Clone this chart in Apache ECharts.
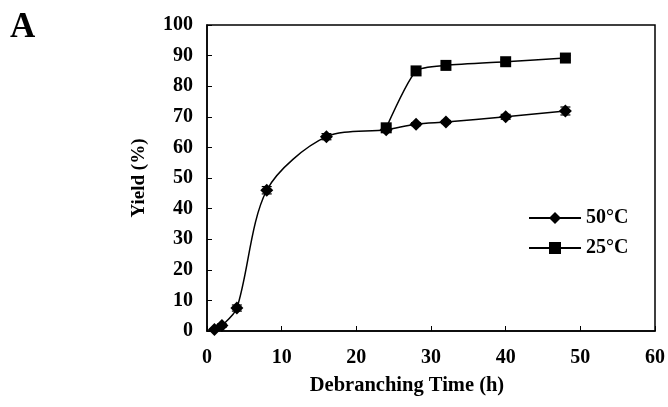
<!DOCTYPE html>
<html>
<head>
<meta charset="utf-8">
<script src="https://cdn.jsdelivr.net/npm/echarts@6/dist/echarts.min.js"></script>
<style>
  html, body { margin: 0; padding: 0; background: #fff; }
  #chart { width: 668px; height: 407px; }
</style>
</head>
<body>
<div id="chart"></div>
<script>
// debranching time (h) and yield (%)
const time50 = [1, 2, 4, 8, 16, 24, 28, 32, 40, 48];
const yield50 = [0.5, 1.8, 7.5, 46, 63.5, 65.8, 67.6, 68.3, 70, 71.9];
const err50 = [0.3, 0.5, 1.0, 1.2, 1.0, 0.8, 0.5, 0.5, 0.8, 1.3];

const time25 = [24, 28, 32, 40, 48];
const yield25 = [66.4, 85, 86.8, 88, 89.2];
const err25 = [0.8, 0.8, 0.5, 0.6, 0.8];

const xTicks = [0, 10, 20, 30, 40, 50, 60];
const yTicks = [0, 10, 20, 30, 40, 50, 60, 70, 80, 90, 100];

const FONT = 'Liberation Serif';

function pairs(xs, ys) {
    return xs.map((x, i) => [x, ys[i]]);
}

function errData(xs, ys, es) {
    return xs.map((x, i) => [x, ys[i] - es[i], ys[i] + es[i]]);
}

// little error bars with caps
function renderErr(params, api) {
    const x = api.value(0);
    const lo = api.coord([x, api.value(1)]);
    const hi = api.coord([x, api.value(2)]);
    const cap = 5;
    const style = { stroke: '#000', lineWidth: 1.2 };
    return {
        type: 'group',
        children: [
            { type: 'line', shape: { x1: lo[0], y1: lo[1], x2: hi[0], y2: hi[1] }, style: style },
            { type: 'line', shape: { x1: lo[0] - cap, y1: lo[1], x2: lo[0] + cap, y2: lo[1] }, style: style },
            { type: 'line', shape: { x1: hi[0] - cap, y1: hi[1], x2: hi[0] + cap, y2: hi[1] }, style: style }
        ]
    };
}

const chart = echarts.init(document.getElementById('chart'));
const option = {
    animation: false,
    textStyle: { fontFamily: FONT, fontWeight: 'bold', color: '#000' },
    title: {
        text: 'A',
        left: 10,
        top: 10,
        padding: 0,
        textStyle: { fontFamily: FONT, fontWeight: 'bold', fontSize: 35, color: '#000' }
    },
    grid: {
        left: 207, right: 11, top: 25, bottom: 76,
        show: true, borderColor: '#000', borderWidth: 1.5
    },
    legend: {
        left: 528,
        top: 208,
        padding: 0,
        orient: 'vertical',
        itemWidth: 52,
        itemHeight: 15,
        itemGap: 10,
        textStyle: { fontFamily: FONT, fontWeight: 'bold', fontSize: 20, color: '#000' },
        data: ['50°C', '25°C']
    },
    xAxis: {
        type: 'value',
        min: 0, max: 60, interval: 10,
        name: 'Debranching Time (h)',
        nameLocation: 'middle',
        nameGap: 44,
        nameTextStyle: { fontFamily: FONT, fontWeight: 'bold', fontSize: 20.5, color: '#000', padding: [0, 48, 0, 0] },
        axisLine: { lineStyle: { color: '#000', width: 1.5 } },
        axisTick: { inside: true, length: 5, lineStyle: { color: '#000' } },
        axisLabel: {
            margin: 17, fontFamily: FONT, fontWeight: 'bold', fontSize: 20, color: '#000',
            formatter: v => xTicks.includes(v) ? String(v) : ''
        },
        splitLine: { show: false }
    },
    yAxis: {
        type: 'value',
        min: 0, max: 100, interval: 10,
        name: 'Yield (%)',
        nameLocation: 'middle',
        nameGap: 58,
        nameTextStyle: { fontFamily: FONT, fontWeight: 'bold', fontSize: 19, color: '#000' },
        axisLine: { show: true, lineStyle: { color: '#000', width: 1.5 } },
        axisTick: { show: true, inside: true, length: 5, lineStyle: { color: '#000' } },
        axisLabel: {
            margin: 14, fontFamily: FONT, fontWeight: 'bold', fontSize: 20, color: '#000',
            formatter: v => yTicks.includes(v) ? String(v) : ''
        },
        splitLine: { show: false }
    },
    series: [
        {
            name: '25°C',
            type: 'line',
            data: pairs(time25, yield25),
            smooth: 0.2,
            symbol: 'rect',
            symbolSize: 11,
            lineStyle: { color: '#000', width: 1.5 },
            itemStyle: { color: '#000' }
        },
        {
            name: '50°C',
            type: 'line',
            data: pairs(time50, yield50),
            smooth: 0.3,
            symbol: 'diamond',
            symbolSize: 13,
            lineStyle: { color: '#000', width: 1.5 },
            itemStyle: { color: '#000' }
        },
        {
            type: 'custom',
            renderItem: renderErr,
            data: errData(time50, yield50, err50),
            z: 3
        },
        {
            type: 'custom',
            renderItem: renderErr,
            data: errData(time25, yield25, err25),
            z: 3
        }
    ]
};
chart.setOption(option);
</script>
</body>
</html>
